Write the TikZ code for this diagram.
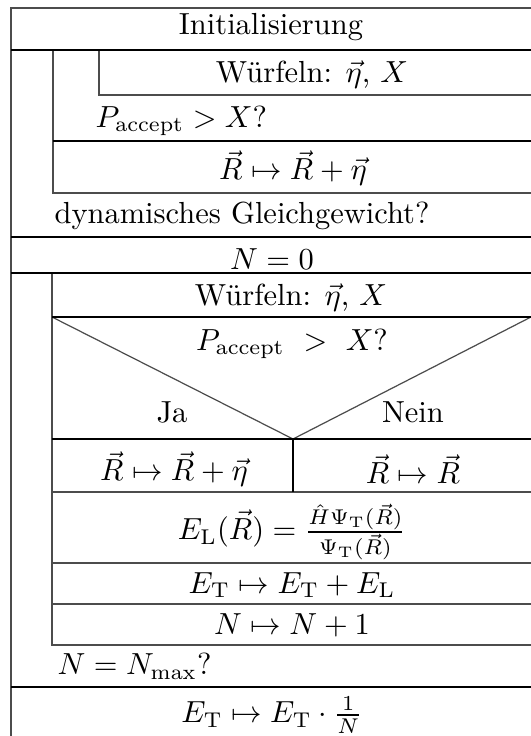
\documentclass[tikz,border=0pt]{standalone}
\usepackage{amsmath}
\begin{document}
\begin{tikzpicture}[x=0.328pt,y=-0.328pt,
  thin line/.style={line width=0.4pt,draw=black!70},
  thick line/.style={line width=0.7pt,draw=black},
  lbl/.style={inner sep=0pt,font=\normalsize},
]
\useasboundingbox (0,0) rectangle (531,736);
% outer frame
\draw[thin line] (11,736) -- (11,8) -- (531,8);
% first loop
\draw[thin line] (53,50) -- (53,193) -- (531,193);
\draw[thin line] (99,50) -- (99,95) -- (531,95);
% second loop
\draw[thin line] (52,273) -- (52,645) -- (531,645);
\draw[thin line] (52,317) -- (293,439) -- (531,317);
\draw[thin line] (52,563) -- (531,563);
\draw[thin line] (52,604) -- (531,604);
\draw[thin line] (52,492) -- (531,492);
% thick separators
\draw[thick line] (11,50) -- (531,50);
\draw[thick line] (53,141) -- (531,141);
\draw[thick line] (11,237) -- (531,237);
\draw[thick line] (11,273) -- (531,273);
\draw[thick line] (52,317) -- (531,317);
\draw[thick line] (52,439) -- (531,439);
\draw[thick line] (293,439) -- (293,492);
\draw[thick line] (11,687) -- (531,687);
% texts
\node[lbl] (init) at (271,27) {Initialisierung};
\node[lbl] (w1) at (312,75) {W\"urfeln: $\vec\eta$, $X$};
\node[lbl,anchor=west] (p1) at (95,121) {$P_{\mathrm{accept}} > X$?};
\node[lbl] (r1) at (293,168) {$\vec R\mapsto \vec R+\vec\eta$};
\node[lbl,anchor=west] (dg) at (54,216) {dynamisches Gleichgewicht?};
\node[lbl] (n0) at (272,259) {$N=0$};
\node[lbl] (w2) at (291,298) {W\"urfeln: $\vec\eta$, $X$};
\node[lbl] (p2) at (292,344) {$P_{\mathrm{accept}}\ >\ X$?};
\node[lbl] (ja) at (172,412) {Ja};
\node[lbl] (nein) at (413,412) {Nein};
\node[lbl] (r2) at (174,469) {$\vec R\mapsto \vec R+\vec\eta$};
\node[lbl] (r3) at (413,469) {$\vec R\mapsto \vec R$};
\node[lbl] (el) at (292,532) {$E_{\mathrm{L}}(\vec R)=\frac{\hat H\Psi_{\mathrm{T}}(\vec R)}{\Psi_{\mathrm{T}}(\vec R)}$};
\node[lbl] (et) at (292,585) {$E_{\mathrm{T}}\mapsto E_{\mathrm{T}}+E_{\mathrm{L}}$};
\node[lbl] (nn) at (292,625) {$N\mapsto N+1$};
\node[lbl,anchor=west] (nmax) at (57,666) {$N=N_{\mathrm{max}}$?};
\node[lbl] (fin) at (272,715) {$E_{\mathrm{T}}\mapsto E_{\mathrm{T}}\cdot\frac{1}{N}$};
\end{tikzpicture}
\end{document}
